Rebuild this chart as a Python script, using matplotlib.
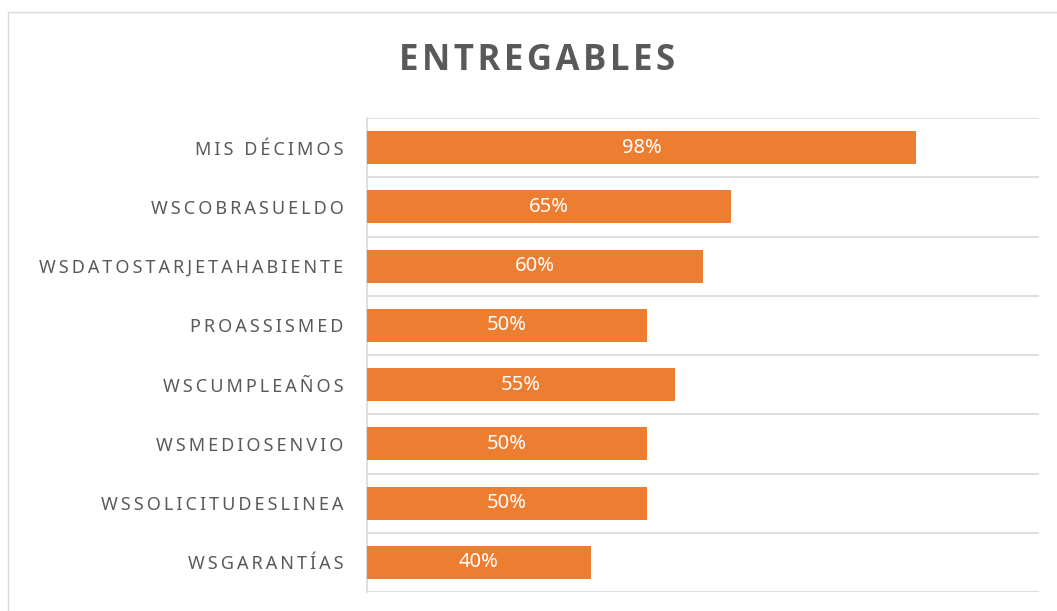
import matplotlib
matplotlib.use("Agg")
import matplotlib.pyplot as plt
from matplotlib.patches import Rectangle

# deliverable completion per web service
categories = ["MIS DÉCIMOS", "WSCOBRASUELDO", "WSDATOSTARJETAHABIENTE", "PROASSISMED",
              "WSCUMPLEAÑOS", "WSMEDIOSENVIO", "WSSOLICITUDESLINEA", "WSGARANTÍAS"]
completion = [98, 65, 60, 50, 55, 50, 50, 40]

ORANGE = "#ED7D31"
GRID = "#D9D9D9"
TEXT = "#595959"
FONT = ["Noto Sans", "DejaVu Sans"]
TITLE_FONT = ["Open Sans", "DejaVu Sans"]


def spaced(s, gap="\u2009"):
    """Fake tracked capitals by putting a gap between the letters."""
    return gap.join(s)


W, H = 1057, 611
fig = plt.figure(figsize=(W / 100, H / 100), dpi=100)
ax = fig.add_axes([367 / W, 1 - 592 / H, (1039 - 367) / W, (592 - 118) / H])

# chart frame
fig.patches.append(Rectangle((8 / W, -0.05), 1.1, 1 - 12 / H + 0.05,
                             transform=fig.transFigure, fill=False,
                             edgecolor=GRID, lw=1.0))

y = list(range(len(categories)))
bars = ax.barh(y, completion, height=0.56, color=ORANGE, zorder=3)
ax.bar_label(bars, labels=[f"{v}%" for v in completion], label_type="center",
             color="white", fontsize=14.5, family=FONT)

ax.set_xlim(0, 120)
ax.set_ylim(len(categories) - 0.5, -0.5)
ax.set_xticks([])
ax.set_yticks(y)
ax.set_yticklabels([spaced(c) for c in categories], family=FONT,
                   fontsize=13, color=TEXT)
ax.tick_params(axis="y", length=0, pad=17)

# horizontal separators between categories
for b in [i - 0.5 for i in range(len(categories) + 1)]:
    ax.axhline(b, color=GRID, lw=1.2, zorder=1)

for side in ["top", "right", "bottom"]:
    ax.spines[side].set_visible(False)
ax.spines["left"].set_color(GRID)
ax.spines["left"].set_linewidth(1.2)

fig.text(537 / W, 1 - 61 / H, spaced("ENTREGABLES", "\u200a"), ha="center", va="center",
         fontsize=25, fontweight="bold", color=TEXT, family=TITLE_FONT)

fig.savefig("out.png", dpi=100)
